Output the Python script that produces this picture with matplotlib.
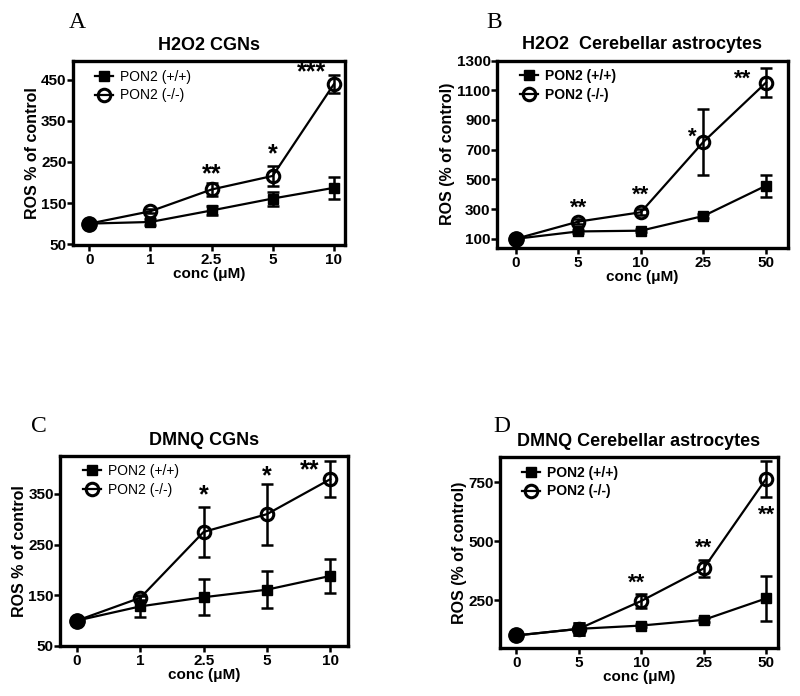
import numpy as np
import matplotlib
matplotlib.use("Agg")
import matplotlib.pyplot as plt

plt.rcParams['font.family'] = ['Liberation Sans', 'DejaVu Sans']

# --- data ---
ticks_cgn = ['0', '1', '2.5', '5', '10']
ticks_ast = ['0', '5', '10', '25', '50']
series_names = ['PON2 (+/+)', 'PON2 (-/-)']

# A: H2O2 CGNs
a_wt = [100, 104, 132, 161, 187]
a_wt_err = [0, 8, 10, 17, 27]
a_ko = [100, 130, 183, 216, 439]
a_ko_err = [0, 5, 16, 24, 22]
a_stars = [(2, 221, '**'), (3, 269, '*'), (3.64, 467, '***')]

# B: H2O2 cerebellar astrocytes
b_wt = [100, 150, 155, 254, 458]
b_wt_err = [0, 10, 10, 15, 73]
b_ko = [100, 216, 279, 753, 1152]
b_ko_err = [0, 15, 20, 224, 100]
b_stars = [(1, 308, '**'), (2, 395, '**'), (2.82, 785, '*'), (3.63, 1174, '**')]

# C: DMNQ CGNs
c_wt = [100, 128, 146, 161, 188]
c_wt_err = [0, 21, 36, 36, 33]
c_ko = [100, 145, 275, 310, 379]
c_ko_err = [0, 5, 49, 60, 35]
c_stars = [(2, 348, '*'), (3, 384, '*'), (3.68, 396, '**')]

# D: DMNQ cerebellar astrocytes
d_wt = [100, 128, 142, 166, 257]
d_wt_err = [0, 25, 8, 10, 95]
d_ko = [100, 128, 246, 384, 764]
d_ko_err = [0, 25, 28, 35, 77]
d_stars = [(1.92, 323, '**'), (3, 468, '**'), (4, 609, '**')]

panels = [
    dict(letter='A', lpos=(77, 23), title='H2O2 CGNs', ylabel='ROS % of control', xt=ticks_cgn,
         wt=a_wt, wte=a_wt_err, ko=a_ko, koe=a_ko_err, stars=a_stars,
         yticks=[50, 150, 250, 350, 450], ylim=(48, 495), xlim=(-0.27, 4.18),
         pos=[0.091, 0.648, 0.34, 0.264], legbold=False, starsize=18),
    dict(letter='B', lpos=(494, 22), title='H2O2  Cerebellar astrocytes', ylabel='ROS (% of control)',
         xt=ticks_ast, wt=b_wt, wte=b_wt_err, ko=b_ko, koe=b_ko_err, stars=b_stars,
         yticks=[100, 300, 500, 700, 900, 1100, 1300], ylim=(40, 1300), xlim=(-0.3, 4.35),
         pos=[0.621, 0.644, 0.364, 0.269], legbold=True, starsize=16),
    dict(letter='C', lpos=(39, 427), title='DMNQ CGNs', ylabel='ROS % of control', xt=ticks_cgn,
         wt=c_wt, wte=c_wt_err, ko=c_ko, koe=c_ko_err, stars=c_stars,
         yticks=[50, 150, 250, 350], ylim=(50, 425), xlim=(-0.27, 4.28),
         pos=[0.075, 0.072, 0.36, 0.273], legbold=False, starsize=18),
    dict(letter='D', lpos=(502, 427), title='DMNQ Cerebellar astrocytes', ylabel='ROS (% of control)',
         xt=ticks_ast, wt=d_wt, wte=d_wt_err, ko=d_ko, koe=d_ko_err, stars=d_stars,
         yticks=[250, 500, 750], ylim=(47, 855), xlim=(-0.26, 4.19),
         pos=[0.625, 0.069, 0.3475, 0.274], legbold=True, starsize=16),
]

W, H = 800, 696
fig = plt.figure(figsize=(W / 100, H / 100), dpi=100)

for p in panels:
    ax = fig.add_axes(p['pos'])
    x = np.arange(len(p['xt']))
    eb = dict(fmt='none', ecolor='black', elinewidth=1.8, capsize=4.5, capthick=1.8, clip_on=False)
    ax.errorbar(x, p['wt'], yerr=p['wte'], **eb)
    ax.errorbar(x, p['ko'], yerr=p['koe'], **eb)
    ax.plot(x, p['wt'], color='black', marker='s', markersize=6.5, linewidth=1.6,
            label=series_names[0], clip_on=False)
    ax.plot(x, p['ko'], color='black', marker='o', markersize=9, markerfacecolor='none',
            markeredgewidth=2.2, linewidth=1.6, label=series_names[1], clip_on=False)
    # shared control point at 0 is drawn solid
    ax.plot(x[:1], p['ko'][:1], 'o', color='black', markersize=11, clip_on=False)
    for sx, sy, s in p['stars']:
        ax.text(sx, sy, s, ha='center', va='center', fontsize=p['starsize'], fontweight='bold')

    ax.set_xlim(*p['xlim'])
    ax.set_ylim(*p['ylim'])
    ax.set_xticks(x)
    ax.set_xticklabels(p['xt'])
    ax.set_yticks(p['yticks'])
    for lab in ax.get_xticklabels() + ax.get_yticklabels():
        lab.set_fontweight('bold')
        lab.set_fontsize(11)
    ax.tick_params(direction='out', length=4, width=1.8, pad=2)
    ax.tick_params(axis='y', pad=0.5)
    for sp in ax.spines.values():
        sp.set_linewidth(2.4)
    ax.set_xlabel('conc (\u03bcM)', fontsize=11, fontweight='bold', labelpad=0)
    ax.set_ylabel(p['ylabel'], fontsize=11.5, fontweight='bold', labelpad=1)
    ax.set_title(p['title'], fontsize=13, fontweight='bold', pad=8)
    ax.legend(loc='upper left', bbox_to_anchor=(0.05, 1.0), frameon=False, handlelength=1.3,
              handletextpad=0.5, borderaxespad=0.2, labelspacing=0.35,
              prop={'weight': 'bold' if p['legbold'] else 'normal', 'size': 10})
    lx, ly = p['lpos']
    fig.text(lx / W, 1 - ly / H, p['letter'], family='Liberation Serif', fontsize=17,
             ha='center', va='center')

fig.savefig('out.png', dpi=100)
